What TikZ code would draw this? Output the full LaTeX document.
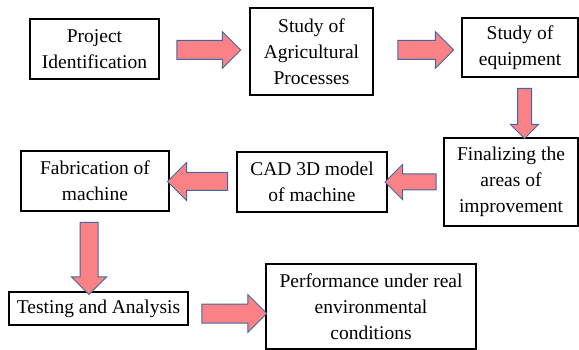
\documentclass[tikz,border=0pt]{standalone}
\usepackage{fontspec}
\setmainfont{Liberation Serif}
\usetikzlibrary{shapes.arrows}
\definecolor{arrowfill}{RGB}{250,130,135}
\definecolor{arrowline}{RGB}{65,105,160}
\newcommand{\blockarrow}[6]{\node [bigarrow, minimum height=#3pt, minimum width=#4pt, inner ysep=#5pt/2, single arrow head extend={(#4pt-#5pt)/2}, rotate=#6] (#1) at (#2) {}}

\begin{document}
\begin{tikzpicture}[x=1pt,y=-1pt,
    box/.style={draw, line width=1.2pt, align=center, inner sep=0pt, font=\fontsize{19.5}{26}\selectfont},
    bigarrow/.style={single arrow, draw=arrowline, fill=arrowfill, line width=1pt, inner xsep=0pt}]
    \useasboundingbox (0,0) rectangle (579,350);

    \node[box, minimum width=129pt, minimum height=60pt] (project) at (94.5,49) {Project\\Identification};
    \node[box, minimum width=123pt, minimum height=87pt] (agri) at (311.5,51.5) {Study of\\Agricultural\\Processes};
    \node[box, minimum width=116pt, minimum height=59pt] (equip) at (520,47.5) {Study of\\equipment};
    \node[box, minimum width=134pt, minimum height=88pt] (final) at (511,182) {Finalizing the\\areas of\\improvement};
    \node[box, minimum width=150pt, minimum height=60pt] (cad) at (312,182) {CAD 3D model\\of machine};
    \node[box, minimum width=148pt, minimum height=60pt] (fab) at (95,181) {Fabrication of\\machine};
    \node[box, minimum width=179pt, minimum height=33pt] (test) at (98.5,308.5) {Testing and Analysis};
    \node[box, minimum width=210pt, minimum height=85pt] (perf) at (371,306.5) {Performance under real\\environmental\\conditions};

    \blockarrow{a1}{204,50}{64}{36}{18}{0};
    \blockarrow{a2}{421,50}{56}{36}{18}{0};
    \blockarrow{a3}{524.5,110}{50}{27}{13}{-90};
    \blockarrow{a4}{414.5,182}{51}{34}{15}{180};
    \blockarrow{a5}{202,181.5}{60}{37}{17}{180};
    \blockarrow{a6}{89,254}{72}{34}{17}{-90};
    \blockarrow{a7}{229.5,313.5}{65}{37}{18}{0};
\end{tikzpicture}
\end{document}
